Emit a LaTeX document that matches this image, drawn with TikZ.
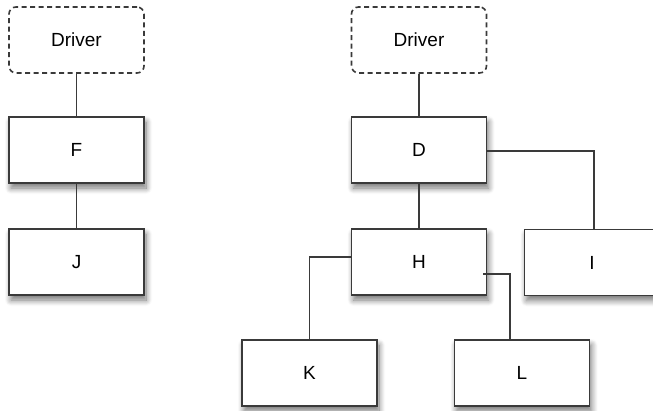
\documentclass[tikz,border=0pt]{standalone}
\usepackage{fontspec}
\setmainfont{Liberation Sans}
\usetikzlibrary{shadows.blur}
\definecolor{edge}{HTML}{3A3A3A}
\begin{document}
\begin{tikzpicture}[x=1pt,y=-1pt,
  box/.style={draw=edge,line width=1.6pt,fill=white,minimum width=135pt,minimum height=66pt,inner sep=0pt,font=\fontsize{19}{21}\selectfont,
    blur shadow={shadow xshift=2pt,shadow yshift=-5pt,shadow blur steps=10,shadow opacity=55,shadow blur radius=6pt}},
  drv/.style={draw=edge,line width=1.6pt,dashed,dash pattern=on 5pt off 3.5pt,rounded corners=7pt,minimum width=135pt,minimum height=66pt,inner sep=0pt,font=\fontsize{19}{21}\selectfont},
  conn/.style={draw=edge,line width=1.6pt}]
\useasboundingbox (0,0) rectangle (653,410);
\begin{scope}
\clip (0,0) rectangle (653,410);
\node[drv] (drvA) at (76.5,40) {Driver};
\node[box] (F) at (76.5,150) {F};
\node[box] (J) at (76.5,262) {J};
\node[drv] (drvB) at (419,40) {Driver};
\node[box] (D) at (419,150) {D};
\node[box] (H) at (419,262) {H};
\node[box] (I) at (592,262.5) {I};
\node[box] (K) at (309.5,373) {K};
\node[box] (L) at (522,373) {L};
\end{scope}
\draw[conn] (drvA) -- (F);
\draw[conn] (F) -- (J);
\draw[conn] (drvB) -- (D);
\draw[conn] (D) -- (H);
\draw[conn] ([yshift=-1pt]D.east) -| ([xshift=2pt]I.north);
\draw[conn] ([yshift=5pt]H.west) -| (K.north);
\draw[conn] ([xshift=-4pt,yshift=-12pt]H.east) -| ([xshift=-12pt]L.north);
\end{tikzpicture}
\end{document}
